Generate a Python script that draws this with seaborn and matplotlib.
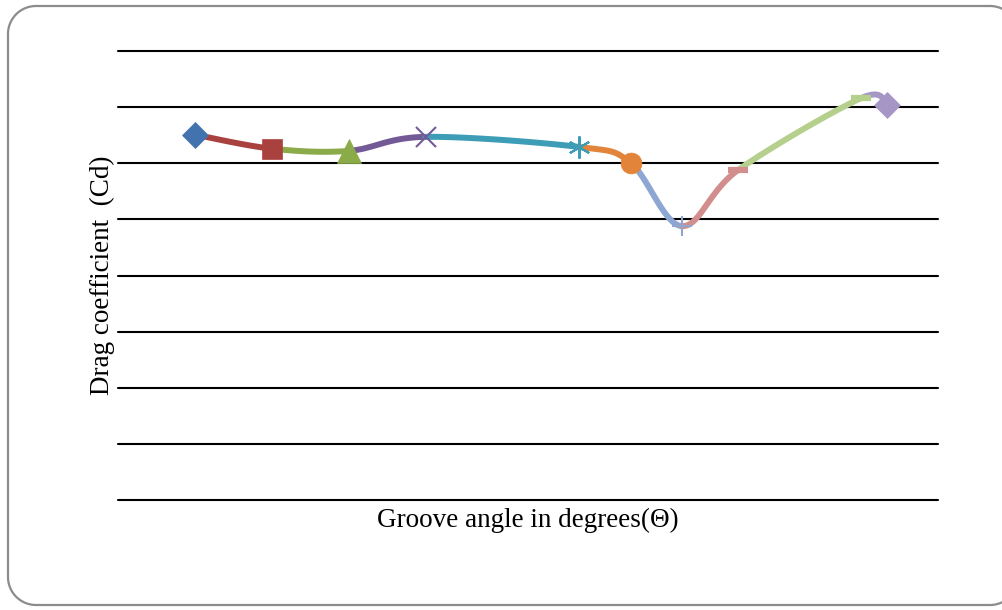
import numpy as np
import pandas as pd
import matplotlib
matplotlib.use("Agg")
import matplotlib.pyplot as plt
import seaborn as sns

# ---- data ----
angles = [15, 30, 45, 60, 90, 100, 110, 121, 145, 150]
drag_cd = [0.651, 0.626, 0.622, 0.647, 0.629, 0.601, 0.488, 0.588, 0.716, 0.704]
markers = ["D", "s", "^", "x", (6, 2, 0), "o", "+", "_", "_", "D"]
colors = ["#4273AE", "#A9423E", "#8AAB48", "#735A96", "#3D9DB7", "#E2843A",
          "#8DA7D2", "#D28E8C", "#B5CF8C", "#A696C6"]
marker_sizes = [13, 14, 17, 15, 16, 15, 14, 14, 15, 13]
x_label = "Groove angle in degrees(\u0398)"
y_label = "Drag coefficient  (Cd)"


def catmull_rom(xs, ys, i, n=40):
    """Excel-style smoothing of the segment between point i and i+1."""
    p = np.column_stack([xs, ys]).astype(float)
    p0 = p[i - 1] if i > 0 else p[i]
    p1, p2 = p[i], p[i + 1]
    p3 = p[i + 2] if i + 2 < len(p) else p[i + 1]
    c1 = p1 + (p2 - p0) / 6.0
    c2 = p2 - (p3 - p1) / 6.0
    t = np.linspace(0, 1, n)[:, None]
    b = ((1 - t) ** 3) * p1 + 3 * ((1 - t) ** 2) * t * c1 + 3 * (1 - t) * t ** 2 * c2 + t ** 3 * p2
    return b[:, 0], b[:, 1]


def rounded_frame(x0, y0, x1, y1, r, n=30):
    """Outline of a rounded rectangle (pixel units, y downwards)."""
    xs, ys = [], []
    corners = [(x1 - r, y0 + r, -90, 0), (x1 - r, y1 - r, 0, 90),
               (x0 + r, y1 - r, 90, 180), (x0 + r, y0 + r, 180, 270)]
    for cx, cy, a0, a1 in corners:
        t = np.radians(np.linspace(a0, a1, n))
        xs.extend(cx + r * np.cos(t))
        ys.extend(cy + r * np.sin(t))
    xs.append(xs[0])
    ys.append(ys[0])
    return xs, ys


sns.set_theme(style="white")
plt.rcParams["font.family"] = ["Liberation Serif", "DejaVu Serif"]

fig = plt.figure(figsize=(10.03, 6.10), dpi=100)

# overlay in pixel units for the rounded frame
bg = fig.add_axes([0, 0, 1, 1], zorder=-1)
bg.set_xlim(0, 1003)
bg.set_ylim(610, 0)
bg.axis("off")
fx, fy = rounded_frame(8, 6, 1018, 605, 28)
bg.plot(fx, fy, color="#8C8C8C", linewidth=1.6, clip_on=True)

ax = fig.add_axes([118 / 1003, 1 - 500 / 610, (938 - 118) / 1003, (500 - 51) / 610])

# axis scale (x and y ranges)
x_min, x_max = 0, 160
y_min, y_max, y_step = 0.0, 0.8, 0.1
ax.set_xlim(x_min, x_max)
ax.set_ylim(y_min, y_max)

for yv in np.arange(y_min, y_max + y_step / 2, y_step):
    ax.axhline(yv, color="black", linewidth=1.5, zorder=1, clip_on=False)

# smoothed segments, each coloured as the series that ends there
for i in range(len(angles) - 1):
    sx, sy = catmull_rom(angles, drag_cd, i)
    seg = pd.DataFrame({"angle": sx, "cd": sy})
    sns.lineplot(data=seg, x="angle", y="cd", ax=ax, sort=False,
                 color=colors[i + 1], linewidth=4.3, zorder=2 + i)

for i, (a, c) in enumerate(zip(angles, drag_cd)):
    m = markers[i]
    if m in ("x", "+") or isinstance(m, tuple):
        mew = 1.5
    elif m == "_":
        mew = 4.5
    else:
        mew = 0.5
    ax.plot([a], [c], marker=m, markersize=marker_sizes[i], color=colors[i],
            markeredgewidth=mew, linestyle="none", zorder=20)

ax.set_xticks([])
ax.set_yticks([])
for s in ax.spines.values():
    s.set_visible(False)
ax.set_xlabel(x_label, fontsize=19.5, labelpad=6, color="black")
ax.set_ylabel(y_label, fontsize=19.5, labelpad=2, color="black")
ax.patch.set_alpha(0)

fig.savefig("out.png", dpi=100)
